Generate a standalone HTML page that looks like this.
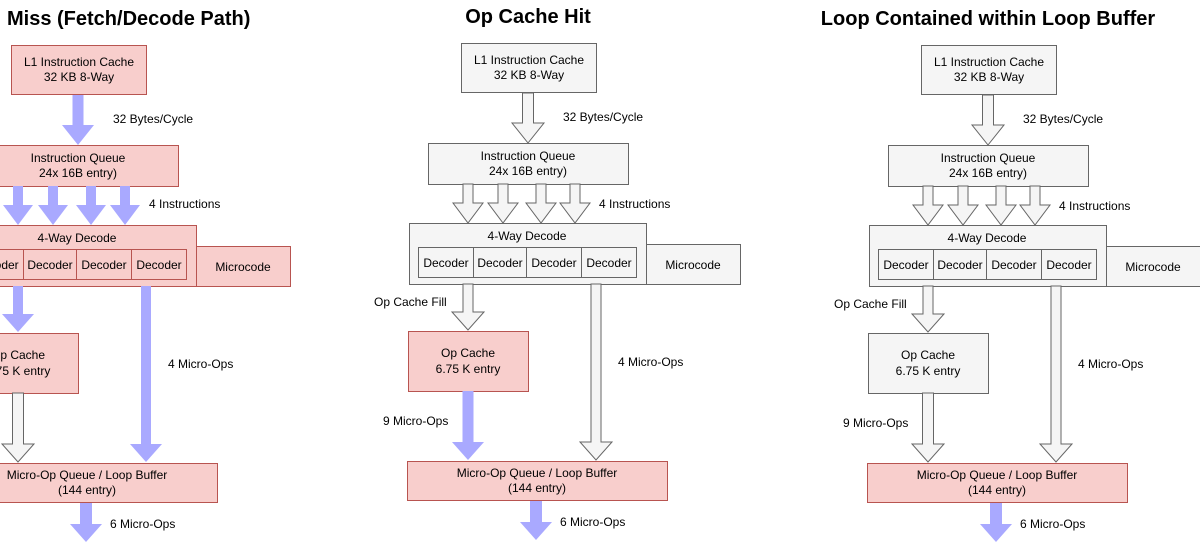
<!DOCTYPE html>
<html><head><meta charset="utf-8"><style>
html,body{margin:0;padding:0;background:#fff;}
svg{display:block;}
text{font-family:"Liberation Sans",Arial,sans-serif;font-size:12px;fill:#000;}
.t{font-size:20px;font-weight:bold;}
.p{fill:#f8cecc;stroke:#b85450;stroke-width:1;}
.g{fill:#f5f5f5;stroke:#666;stroke-width:1;}
.b{fill:#a9a9ff;stroke:none;}
.w{fill:#f5f5f5;stroke:#666;stroke-width:1;}
</style></head><body>
<svg width="1200" height="545" viewBox="0 0 1200 545" xmlns="http://www.w3.org/2000/svg">
<defs>
<path id="a1" d="M522.5,93 L533.5,93 L533.5,123 L544,123 L528,143 L512,123 L522.5,123 Z"/>
<path id="q1" d="M463,184 L473,184 L473,203 L483,203 L468,223 L453,203 L463,203 Z"/>
<path id="q2" d="M498,184 L508,184 L508,203 L518,203 L503,223 L488,203 L498,203 Z"/>
<path id="q3" d="M536,184 L546,184 L546,203 L556,203 L541,223 L526,203 L536,203 Z"/>
<path id="q4" d="M570,184 L580,184 L580,203 L590,203 L575,223 L560,203 L570,203 Z"/>
<path id="fill" d="M463,284 L473,284 L473,312 L484,312 L468,330 L452,312 L463,312 Z"/>
<path id="m9" d="M462.5,391 L473.5,391 L473.5,442 L484,442 L468,460 L452,442 L462.5,442 Z"/>
<path id="m4" d="M591,284 L601,284 L601,442 L612,442 L596,460 L580,442 L591,442 Z"/>
<path id="m6" d="M530,501 L542,501 L542,522 L552,522 L536,540 L520,522 L530,522 Z"/>
</defs>

<text class="t" x="7" y="25">Miss (Fetch/Decode Path)</text>
<text class="t" x="528" y="23" text-anchor="middle">Op Cache Hit</text>
<text class="t" x="988" y="25" text-anchor="middle">Loop Contained within Loop Buffer</text>

<!-- LEFT PANEL -->
<g transform="translate(-450,2)">
<rect class="p" x="461.5" y="43.5" width="135" height="49"/>
<text x="529" y="64" text-anchor="middle">L1 Instruction Cache</text>
<text x="529" y="79" text-anchor="middle">32 KB 8-Way</text>
<use href="#a1" class="b"/>
<text x="563" y="121">32 Bytes/Cycle</text>
<rect class="p" x="428.5" y="143.5" width="200" height="41"/>
<text x="528" y="160" text-anchor="middle">Instruction Queue</text>
<text x="528" y="175" text-anchor="middle">24x 16B entry)</text>
<use href="#q1" class="b"/><use href="#q2" class="b"/><use href="#q3" class="b"/><use href="#q4" class="b"/>
<text x="599" y="206">4 Instructions</text>
<rect class="p" x="409.5" y="223.5" width="237" height="61"/>
<rect class="p" x="646.5" y="244.5" width="94" height="40"/>
<text x="693" y="269" text-anchor="middle">Microcode</text>
<text x="527" y="240" text-anchor="middle">4-Way Decode</text>
<rect class="p" x="418.5" y="247.5" width="55" height="30"/>
<rect class="p" x="473.5" y="247.5" width="53" height="30"/>
<rect class="p" x="526.5" y="247.5" width="55" height="30"/>
<rect class="p" x="581.5" y="247.5" width="55" height="30"/>
<text x="446" y="267" text-anchor="middle">Decoder</text>
<text x="500" y="267" text-anchor="middle">Decoder</text>
<text x="554" y="267" text-anchor="middle">Decoder</text>
<text x="609" y="267" text-anchor="middle">Decoder</text>
<use href="#fill" class="b"/>
<rect class="p" x="408.5" y="331.5" width="120" height="60"/>
<text x="468" y="357" text-anchor="middle">Op Cache</text>
<text x="468" y="373" text-anchor="middle">6.75 K entry</text>
<use href="#m9" class="w"/>
<use href="#m4" class="b"/>
<text x="618" y="366">4 Micro-Ops</text>
<rect class="p" x="407.5" y="461.5" width="260" height="39"/>
<text x="537" y="477" text-anchor="middle">Micro-Op Queue / Loop Buffer</text>
<text x="537" y="492" text-anchor="middle">(144 entry)</text>
<use href="#m6" class="b"/>
<text x="560" y="526">6 Micro-Ops</text>
</g>

<!-- MIDDLE PANEL -->
<g>
<rect class="g" x="461.5" y="43.5" width="135" height="49"/>
<text x="529" y="64" text-anchor="middle">L1 Instruction Cache</text>
<text x="529" y="79" text-anchor="middle">32 KB 8-Way</text>
<use href="#a1" class="w"/>
<text x="563" y="121">32 Bytes/Cycle</text>
<rect class="g" x="428.5" y="143.5" width="200" height="41"/>
<text x="528" y="160" text-anchor="middle">Instruction Queue</text>
<text x="528" y="175" text-anchor="middle">24x 16B entry)</text>
<use href="#q1" class="w"/><use href="#q2" class="w"/><use href="#q3" class="w"/><use href="#q4" class="w"/>
<text x="599" y="208">4 Instructions</text>
<rect class="g" x="409.5" y="223.5" width="237" height="61"/>
<rect class="g" x="646.5" y="244.5" width="94" height="40"/>
<text x="693" y="269" text-anchor="middle">Microcode</text>
<text x="527" y="240" text-anchor="middle">4-Way Decode</text>
<rect class="g" x="418.5" y="247.5" width="55" height="30"/>
<rect class="g" x="473.5" y="247.5" width="53" height="30"/>
<rect class="g" x="526.5" y="247.5" width="55" height="30"/>
<rect class="g" x="581.5" y="247.5" width="55" height="30"/>
<text x="446" y="267" text-anchor="middle">Decoder</text>
<text x="500" y="267" text-anchor="middle">Decoder</text>
<text x="554" y="267" text-anchor="middle">Decoder</text>
<text x="609" y="267" text-anchor="middle">Decoder</text>
<use href="#fill" class="w"/>
<text x="374" y="306">Op Cache Fill</text>
<rect class="p" x="408.5" y="331.5" width="120" height="60"/>
<text x="468" y="357" text-anchor="middle">Op Cache</text>
<text x="468" y="373" text-anchor="middle">6.75 K entry</text>
<use href="#m9" class="b"/>
<text x="383" y="425">9 Micro-Ops</text>
<use href="#m4" class="w"/>
<text x="618" y="366">4 Micro-Ops</text>
<rect class="p" x="407.5" y="461.5" width="260" height="39"/>
<text x="537" y="477" text-anchor="middle">Micro-Op Queue / Loop Buffer</text>
<text x="537" y="492" text-anchor="middle">(144 entry)</text>
<use href="#m6" class="b"/>
<text x="560" y="526">6 Micro-Ops</text>
</g>

<!-- RIGHT PANEL -->
<g transform="translate(460,2)">
<rect class="g" x="461.5" y="43.5" width="135" height="49"/>
<text x="529" y="64" text-anchor="middle">L1 Instruction Cache</text>
<text x="529" y="79" text-anchor="middle">32 KB 8-Way</text>
<use href="#a1" class="w"/>
<text x="563" y="121">32 Bytes/Cycle</text>
<rect class="g" x="428.5" y="143.5" width="200" height="41"/>
<text x="528" y="160" text-anchor="middle">Instruction Queue</text>
<text x="528" y="175" text-anchor="middle">24x 16B entry)</text>
<use href="#q1" class="w"/><use href="#q2" class="w"/><use href="#q3" class="w"/><use href="#q4" class="w"/>
<text x="599" y="208">4 Instructions</text>
<rect class="g" x="409.5" y="223.5" width="237" height="61"/>
<rect class="g" x="646.5" y="244.5" width="94" height="40"/>
<text x="693" y="269" text-anchor="middle">Microcode</text>
<text x="527" y="240" text-anchor="middle">4-Way Decode</text>
<rect class="g" x="418.5" y="247.5" width="55" height="30"/>
<rect class="g" x="473.5" y="247.5" width="53" height="30"/>
<rect class="g" x="526.5" y="247.5" width="55" height="30"/>
<rect class="g" x="581.5" y="247.5" width="55" height="30"/>
<text x="446" y="267" text-anchor="middle">Decoder</text>
<text x="500" y="267" text-anchor="middle">Decoder</text>
<text x="554" y="267" text-anchor="middle">Decoder</text>
<text x="609" y="267" text-anchor="middle">Decoder</text>
<use href="#fill" class="w"/>
<text x="374" y="306">Op Cache Fill</text>
<rect class="g" x="408.5" y="331.5" width="120" height="60"/>
<text x="468" y="357" text-anchor="middle">Op Cache</text>
<text x="468" y="373" text-anchor="middle">6.75 K entry</text>
<use href="#m9" class="w"/>
<text x="383" y="425">9 Micro-Ops</text>
<use href="#m4" class="w"/>
<text x="618" y="366">4 Micro-Ops</text>
<rect class="p" x="407.5" y="461.5" width="260" height="39"/>
<text x="537" y="477" text-anchor="middle">Micro-Op Queue / Loop Buffer</text>
<text x="537" y="492" text-anchor="middle">(144 entry)</text>
<use href="#m6" class="b"/>
<text x="560" y="526">6 Micro-Ops</text>
</g>
</svg>
</body></html>
